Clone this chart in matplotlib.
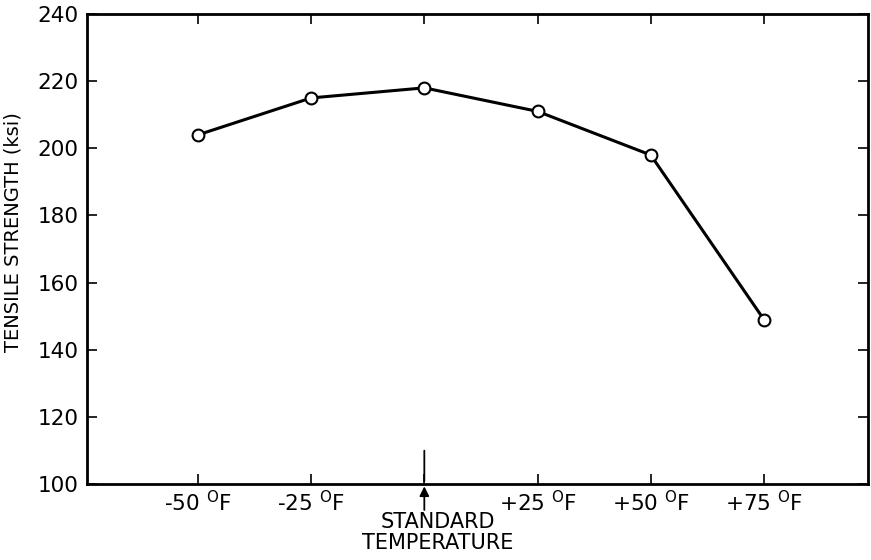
import matplotlib
matplotlib.use("Agg")
import matplotlib.pyplot as plt

# temperature offsets from standard (deg F) and tensile strength (ksi)
temps = [-50, -25, 0, 25, 50, 75]
strength = [204, 215, 218, 211, 198, 149]

xtick_pos = [-50, -25, 0, 25, 50, 75]
xtick_labels = ["-50 $^\\mathregular{O}$F", "-25 $^\\mathregular{O}$F", "",
                "+25 $^\\mathregular{O}$F", "+50 $^\\mathregular{O}$F", "+75 $^\\mathregular{O}$F"]
yticks = [100, 120, 140, 160, 180, 200, 220, 240]

plt.rcParams['font.family'] = ['DejaVu Sans']

fig = plt.figure(figsize=(8.71, 5.6), dpi=100)
ax = fig.add_axes([0.0999, 0.1357, 0.8967, 0.8393])

ax.plot(temps, strength, color='black', lw=2.2, marker='o', markersize=8.5,
        markerfacecolor='white', markeredgecolor='black', markeredgewidth=1.5, zorder=3)

ax.set_xlim(-74.5, 98)
ax.set_ylim(100, 240)
ax.set_yticks(yticks)
ax.set_xticks(xtick_pos)
ax.set_xticklabels(xtick_labels)

for s in ax.spines.values():
    s.set_linewidth(2.0)

ax.tick_params(axis='both', direction='in', length=7, width=1.2, labelsize=15.5,
               top=True, right=True)
ax.tick_params(axis='x', pad=4)
ax.tick_params(axis='y', pad=6)

ax.set_ylabel("TENSILE STRENGTH (ksi)", fontsize=14)
ax.yaxis.set_label_coords(-0.082, 0.536)

# standard temperature marker: line above axis plus arrow below
ax.annotate("", xy=(0, 0), xycoords=('data', 'axes fraction'),
            xytext=(0, 26), textcoords='offset points',
            arrowprops=dict(arrowstyle='-', lw=1.3, color='black'),
            annotation_clip=False)
ax.annotate("", xy=(0, -0.005), xycoords=('data', 'axes fraction'),
            xytext=(0, -17), textcoords='offset points',
            arrowprops=dict(arrowstyle='-|>', lw=1.3, color='black',
                            mutation_scale=14, shrinkA=0, shrinkB=0),
            annotation_clip=False)
ax.annotate("STANDARD\nTEMPERATURE", xy=(3, 0), xycoords=('data', 'axes fraction'),
            xytext=(0, -20), textcoords='offset points', ha='center', va='top',
            fontsize=15, linespacing=1.1, annotation_clip=False)

fig.savefig("out.png", dpi=100)
